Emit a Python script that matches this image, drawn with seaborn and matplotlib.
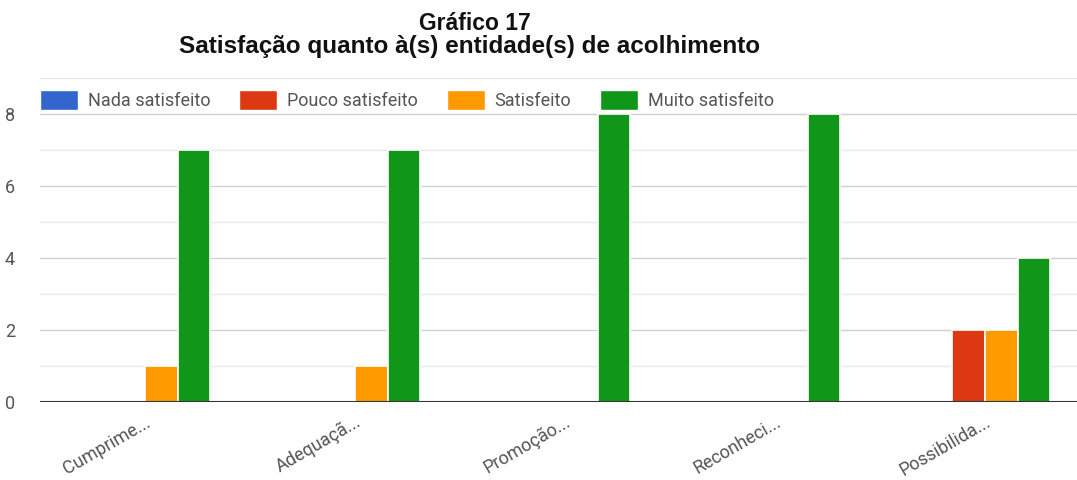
import matplotlib
matplotlib.use('Agg')
import matplotlib.pyplot as plt
import seaborn as sns
import pandas as pd
from matplotlib.patches import Patch

categorias = ['Cumprime...', 'Adequaçã...', 'Promoção...', 'Reconheci...', 'Possibilida...']
series = ['Nada satisfeito', 'Pouco satisfeito', 'Satisfeito', 'Muito satisfeito']
nada = [0, 0, 0, 0, 0]
pouco = [0, 0, 0, 0, 2]
satisfeito = [1, 1, 0, 0, 2]
muito = [7, 7, 8, 8, 4]
cores = ['#3366cc', '#dc3912', '#ff9900', '#109618']

valores = [nada, pouco, satisfeito, muito]
linhas = []
for s, vals in zip(series, valores):
    for c, v in zip(categorias, vals):
        linhas.append({'categoria': c, 'serie': s, 'valor': v})
df = pd.DataFrame(linhas)

sns.set_style('white')
plt.rcParams['font.family'] = ['Liberation Sans', 'DejaVu Sans']

fig = plt.figure(figsize=(10.77, 4.8), dpi=100)
ax = fig.add_axes([40 / 1077, 78 / 480, 1050 / 1077, 324 / 480])

sns.barplot(data=df, x='categoria', y='valor', hue='serie', palette=cores,
            width=0.62, edgecolor='white', linewidth=1.2, saturation=1,
            ax=ax, legend=False)

ax.set_ylim(0, 9)
ax.set_xlim(-0.5, 4.5)
ax.set_yticks([0, 2, 4, 6, 8])
ax.set_yticks(range(0, 10), minor=True)
ax.grid(axis='y', which='both', color='#e8e8e8', linewidth=1)
ax.grid(axis='y', which='major', color='#d0d0d0', linewidth=1)
ax.set_axisbelow(True)
for sp in ['top', 'right', 'left', 'bottom']:
    ax.spines[sp].set_visible(False)
ax.axhline(0, color='#333333', linewidth=1.5)

ax.set_xlabel('')
ax.set_ylabel('')
ax.tick_params(axis='y', length=0, labelsize=13, labelcolor='#555555', pad=18)
ax.tick_params(axis='x', length=0, labelsize=13, labelcolor='#555555', pad=8)
plt.setp(ax.get_xticklabels(), rotation=30, ha='right', rotation_mode='anchor')
for lbl in ax.get_xticklabels():
    lbl.set_family(['Roboto', 'DejaVu Sans'])
for lbl in ax.get_yticklabels():
    lbl.set_family(['Roboto', 'DejaVu Sans'])

handles = [Patch(facecolor=c, edgecolor='white') for c in cores]
leg = ax.legend(handles, series, loc='upper left', bbox_to_anchor=(0.0, 0.962),
                ncol=4, frameon=False, handlelength=2.1, handleheight=1.3,
                columnspacing=1.6, handletextpad=0.55, borderaxespad=0.0,
                borderpad=0.0,
                prop={'family': ['Roboto', 'DejaVu Sans'], 'size': 13})
for t in leg.get_texts():
    t.set_color('#555555')

fig.text(0.441, 0.95, 'Gráfico 17', ha='center', va='center',
         fontsize=16.5, fontweight='bold', color='#111111')
fig.text(0.436, 0.903, 'Satisfação quanto à(s) entidade(s) de acolhimento', ha='center',
         va='center', fontsize=17.5, fontweight='bold', color='#111111')

fig.savefig('out.png', dpi=100)
